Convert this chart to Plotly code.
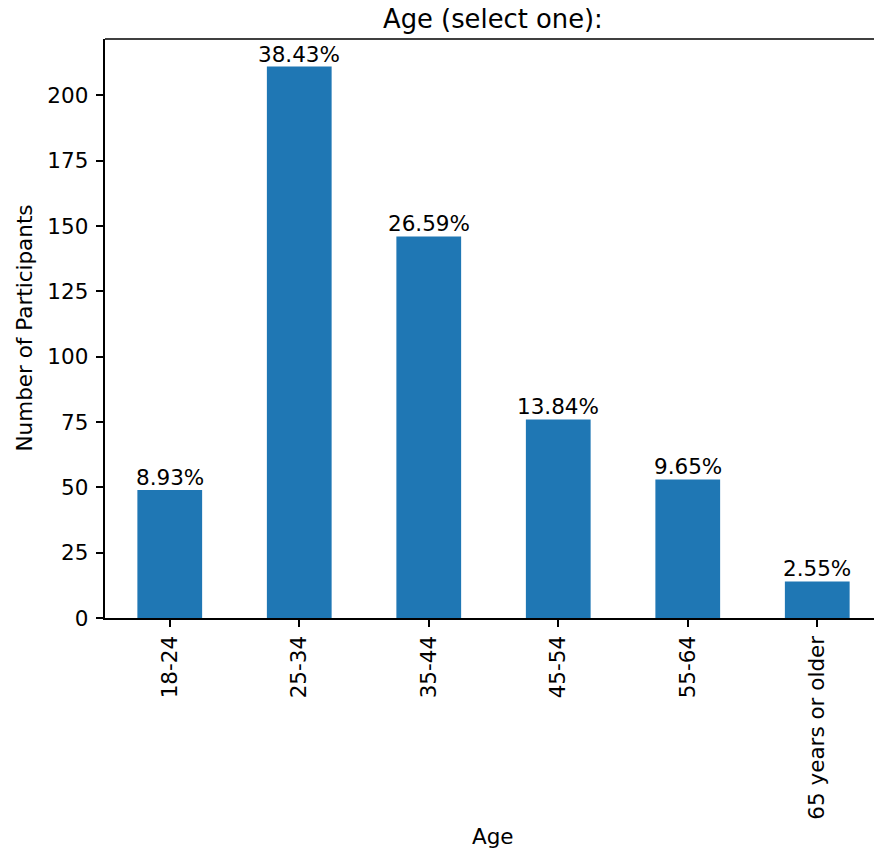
import plotly.graph_objects as go

categories = ["18-24", "25-34", "35-44", "45-54", "55-64", "65 years or older"]
counts = [49, 211, 146, 76, 53, 14]
y_ticks = [0, 25, 50, 75, 100, 125, 150, 175, 200]

total = sum(counts)
percents = [f"{c / total * 100:.2f}%" for c in counts]

FONT = "DejaVu Sans"
TXT = "#000000"
FS = 21.5

fig = go.Figure()
fig.add_trace(go.Bar(
    x=list(range(len(categories))),
    y=counts,
    width=0.5,
    marker=dict(color="#1f77b4", line=dict(width=0)),
    hoverinfo="skip",
))

for i, (c, p) in enumerate(zip(counts, percents)):
    fig.add_annotation(
        x=i, y=c, text=p, showarrow=False, xref="x", yref="y",
        yanchor="bottom", xanchor="center", yshift=-2,
        font=dict(family=FONT, size=FS, color=TXT),
    )

# Title and axis titles
fig.add_annotation(
    text="Age (select one):", xref="paper", yref="paper",
    x=(492.8 - 105) / 769, y=1, yanchor="middle", yshift=39 - 19,
    showarrow=False, font=dict(family=FONT, size=25.8, color=TXT),
)
fig.add_annotation(
    text="Age", xref="paper", yref="paper",
    x=(492.8 - 105) / 769, y=0, yanchor="middle", yshift=-(836 - 618),
    showarrow=False, font=dict(family=FONT, size=FS, color=TXT),
)
fig.add_annotation(
    text="Number of Participants", xref="paper", yref="paper",
    x=0, xanchor="center", xshift=-(105 - 24), y=0.5, yanchor="middle",
    textangle=-90, showarrow=False, font=dict(family=FONT, size=FS, color=TXT),
)

# top spine
fig.add_shape(type="line", xref="paper", yref="paper", x0=0, x1=1, y0=1, y1=1,
              line=dict(color=TXT, width=1.7))

fig.update_layout(
    width=874, height=853,
    margin=dict(l=105, r=0, t=39, b=235),
    paper_bgcolor="white", plot_bgcolor="white",
    showlegend=False,
    font=dict(family=FONT, size=FS, color=TXT),
    xaxis=dict(
        range=[-0.5, -0.5 + 769 / 129.5],
        tickmode="array",
        tickvals=list(range(len(categories))),
        ticktext=categories,
        tickangle=-90,
        ticks="outside", ticklen=7.6, tickwidth=1.7, tickcolor=TXT,
        showline=True, linecolor=TXT, linewidth=1.7,
        showgrid=False, zeroline=False,
        tickfont=dict(family=FONT, size=FS, color=TXT),
    ),
    yaxis=dict(
        range=[0, 221.55],
        tickmode="array",
        tickvals=y_ticks,
        ticks="outside", ticklen=7.6, tickwidth=1.7, tickcolor=TXT,
        showline=True, linecolor=TXT, linewidth=1.7,
        showgrid=False, zeroline=False,
        ticklabelstandoff=3,
        tickfont=dict(family=FONT, size=FS, color=TXT),
    ),
)

fig.write_html(
    "out.html",
    config={"displayModeBar": False, "staticPlot": True},
    post_script="document.body.style.margin='0';document.body.style.padding='0';document.body.style.overflow='hidden';",
)
